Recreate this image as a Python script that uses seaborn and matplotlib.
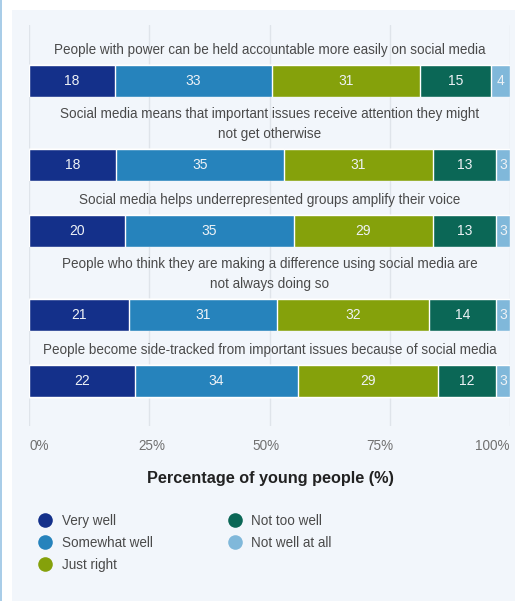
import matplotlib
matplotlib.use("Agg")
import matplotlib.pyplot as plt
from matplotlib.lines import Line2D
from matplotlib.patches import Rectangle
import seaborn as sns
import numpy as np
import pandas as pd

# Datos del grafico
afirmaciones = [
    "People with power can be held accountable more easily on social media",
    "Social media means that important issues receive attention they might\nnot get otherwise",
    "Social media helps underrepresented groups amplify their voice",
    "People who think they are making a difference using social media are\nnot always doing so",
    "People become side-tracked from important issues because of social media",
]
respuestas = ["Very well", "Somewhat well", "Just right", "Not too well", "Not well at all"]
very_well = [18, 18, 20, 21, 22]
somewhat_well = [33, 35, 35, 31, 34]
just_right = [31, 31, 29, 32, 29]
not_too_well = [15, 13, 13, 14, 12]
not_well_at_all = [4, 3, 3, 3, 3]
ticks_x = [0, 25, 50, 75, 100]
etiquetas_x = ["0%", "25%", "50%", "75%", "100%"]

colores = ["#14308a", "#2683bc", "#85a10b", "#0b6756", "#80b8da"]
TEXTO = "#4a4a4a"
GRIS = "#707070"
PANEL = "#f2f6fb"

sns.set_style("white")
plt.rcParams["font.family"] = ["Liberation Sans", "DejaVu Sans"]

W, H = 515, 601
fig = plt.figure(figsize=(W / 100, H / 100), dpi=100)
fig.patch.set_facecolor("white")
fig.add_artist(Rectangle((12 / W, 0), 1, 1 - 10 / H, transform=fig.transFigure,
                         facecolor=PANEL, edgecolor="none", zorder=-10))
fig.add_artist(Rectangle((0, 0), 2 / W, 1, transform=fig.transFigure,
                         facecolor="#a9cde8", edgecolor="none", zorder=-10))

tabla = pd.DataFrame({"afirmacion": afirmaciones, "Very well": very_well,
                      "Somewhat well": somewhat_well, "Just right": just_right,
                      "Not too well": not_too_well, "Not well at all": not_well_at_all})

x0, x1 = 29, 510
arriba = 25
PX = 40.0  # pixeles por unidad categorica
for i, fila in tabla.iterrows():
    lineas = fila["afirmacion"].count("\n") + 1
    alto = 48 + 18 * lineas
    extra_arriba = 6 if i == 0 else 0
    extra_abajo = 29 if i == len(tabla) - 1 else 0
    alto_total = alto + extra_arriba + extra_abajo
    ax = fig.add_axes([x0 / W, 1 - (arriba + alto_total) / H, (x1 - x0) / W, alto_total / H])
    arriba += alto_total
    ax.set_facecolor("none")

    valores = np.array([fila[r] for r in respuestas], dtype=float)
    # cada fila se normaliza al 100 %
    porcentajes = valores / valores.sum() * 100
    acumulado = np.cumsum(porcentajes)
    # barras apiladas: se dibuja el acumulado de mayor a menor
    for j in range(len(respuestas) - 1, -1, -1):
        sns.barplot(x=[acumulado[j]], y=[fila["afirmacion"]], color=colores[j], saturation=1,
                    width=0.8, orient="h", ax=ax, zorder=2)
    for j, v in enumerate(valores):
        centro = acumulado[j] - porcentajes[j] / 2
        ax.text(centro, 0, str(int(v)), ha="center", va="center", color="#eef2f6", fontsize=10, zorder=3)

    ax.annotate(fila["afirmacion"], xy=(50, -0.4), xytext=(0, 6), textcoords="offset points",
                ha="center", va="bottom", fontsize=9.75, color=TEXTO, linespacing=1.47,
                annotation_clip=False)

    ax.set_xlim(0, 100)
    fondo = 0.4 + extra_abajo / PX
    ax.set_ylim(fondo, fondo - alto_total / PX)
    ax.set_xticks(ticks_x)
    ax.set_xticklabels([])
    ax.set_yticks([])
    ax.set_xlabel("")
    ax.set_ylabel("")
    ax.tick_params(length=0)
    ax.grid(axis="x", color="#dfe4ea", linewidth=1, zorder=0)
    ax.set_axisbelow(True)
    for s in ax.spines.values():
        s.set_visible(False)

# etiquetas del eje x repartidas como en el original
y_ticks = 1 - 446 / H
for k, et in enumerate(etiquetas_x):
    if k == 0:
        fig.text(x0 / W, y_ticks, et, ha="left", va="center", fontsize=9.75, color=GRIS)
    elif k == len(etiquetas_x) - 1:
        fig.text(510 / W, y_ticks, et, ha="right", va="center", fontsize=9.75, color=GRIS)
    else:
        cx = 38.5 + k * (493.5 - 38.5) / (len(etiquetas_x) - 1)
        fig.text(cx / W, y_ticks, et, ha="center", va="center", fontsize=9.75, color=GRIS)

fig.text(270 / W, 1 - 479 / H, "Percentage of young people (%)", ha="center", va="center",
         fontsize=11.7, fontweight="bold", color="#222222")

manejadores = [Line2D([], [], marker="o", linestyle="none", markersize=10.5,
                      markerfacecolor=c, markeredgecolor="none") for c in colores]
fig.legend(manejadores, respuestas, ncol=2, loc="upper left", bbox_to_anchor=(38 / W, 1 - 514 / H),
           frameon=False, fontsize=9.75, labelcolor=TEXTO, handlelength=1.0, handletextpad=0.75,
           columnspacing=5.55, labelspacing=0.58, borderaxespad=0, borderpad=0)

fig.savefig("out.png", dpi=100)
